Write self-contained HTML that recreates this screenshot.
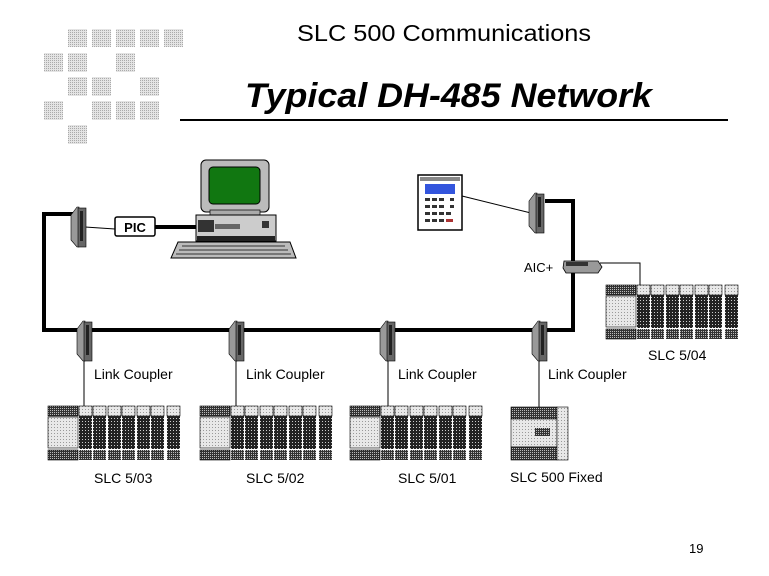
<!DOCTYPE html>
<html><head><meta charset="utf-8"><style>
html,body{margin:0;padding:0;background:#fff;}
svg{display:block;}
text{font-family:"Liberation Sans",Arial,sans-serif;}
</style></head><body>
<svg width="769" height="576" viewBox="0 0 769 576" xmlns="http://www.w3.org/2000/svg">
<defs>
<pattern id="dl" width="3" height="3" patternUnits="userSpaceOnUse"><rect width="3" height="3" fill="#e8e8e8"/><rect width="1" height="1" fill="#999"/></pattern>
<pattern id="lg" width="2" height="2" patternUnits="userSpaceOnUse"><rect width="2" height="2" fill="#e4e4e4"/><rect width="1" height="1" fill="#aaa"/></pattern>
<pattern id="dk" width="3" height="3" patternUnits="userSpaceOnUse"><rect width="3" height="3" fill="#222"/><rect width="1" height="1" fill="#ccc"/></pattern>
<pattern id="dm" width="2" height="2" patternUnits="userSpaceOnUse"><rect width="2" height="2" fill="#333"/><rect width="1" height="1" fill="#bbb"/></pattern>
<g id="slot"><rect x="0" y="0" width="13" height="10" fill="url(#dl)" stroke="#000" stroke-width="0.6"/><rect x="0" y="10" width="13" height="33" fill="url(#dk)"/><rect x="0" y="44" width="13" height="10" fill="url(#dm)"/></g>
<g id="rack">
<rect x="0" y="0" width="132" height="54" fill="#fff"/>
<rect x="0" y="0" width="30" height="10" fill="url(#dm)" stroke="#000" stroke-width="0.6"/>
<rect x="0" y="11" width="30" height="31" fill="url(#dl)" stroke="#000" stroke-width="0.6"/>
<rect x="0" y="44" width="30" height="10" fill="url(#dm)" stroke="#000" stroke-width="0.6"/>
<use href="#slot" x="31"/><use href="#slot" x="45"/>
<use href="#slot" x="60"/><use href="#slot" x="74"/>
<use href="#slot" x="89"/><use href="#slot" x="103"/>
<use href="#slot" x="119"/>
</g>
<g id="cpl">
<polygon points="0,8 6,0 8,0 8,40 6,40 0,33" fill="#999" stroke="#000" stroke-width="0.6"/>
<rect x="7" y="1" width="8" height="39" fill="#666" stroke="#000" stroke-width="0.6"/>
<rect x="9" y="4" width="3" height="30" fill="#222"/>
</g>
</defs>
<g fill="url(#lg)">
<rect x="68" y="29" width="19" height="18"/><rect x="92" y="29" width="19" height="18"/><rect x="116" y="29" width="19" height="18"/><rect x="140" y="29" width="19" height="18"/><rect x="164" y="29" width="19" height="18"/>
<rect x="44" y="53" width="19" height="19"/><rect x="68" y="53" width="19" height="19"/><rect x="116" y="53" width="19" height="19"/>
<rect x="68" y="77" width="19" height="19"/><rect x="92" y="77" width="19" height="19"/><rect x="140" y="77" width="19" height="19"/>
<rect x="44" y="101" width="19" height="19"/><rect x="92" y="101" width="19" height="19"/><rect x="116" y="101" width="19" height="19"/><rect x="140" y="101" width="19" height="19"/>
<rect x="68" y="125" width="19" height="19"/>
</g>
<text x="297" y="41" font-size="23" textLength="294" lengthAdjust="spacingAndGlyphs">SLC 500 Communications</text>
<text x="245" y="107" font-size="34" font-weight="bold" font-style="italic" textLength="407" lengthAdjust="spacingAndGlyphs">Typical DH-485 Network</text>
<rect x="180" y="119" width="548" height="2" fill="#000"/>
<g stroke="#000" stroke-width="4" fill="none">
<polyline points="76,214 44,214 44,330 573,330 573,201 545,201"/>
<line x1="155" y1="227" x2="197" y2="227"/>
</g>
<g stroke="#000" stroke-width="1" fill="none">
<line x1="85" y1="227" x2="115" y2="229"/>
<line x1="462" y1="196" x2="531" y2="213"/>
<polyline points="600,263 640,263 640,285"/>
<line x1="84" y1="360" x2="84" y2="406"/>
<line x1="236" y1="360" x2="236" y2="406"/>
<line x1="388" y1="360" x2="388" y2="406"/>
<line x1="539" y1="360" x2="539" y2="407"/>
</g>
<use href="#cpl" x="71" y="207"/>
<use href="#cpl" x="77" y="321"/>
<use href="#cpl" x="229" y="321"/>
<use href="#cpl" x="380" y="321"/>
<use href="#cpl" x="532" y="321"/>
<use href="#cpl" x="529" y="193"/>
<polygon points="564,261 598,261 602,267 598,273 566,273 563,268" fill="#999" stroke="#000" stroke-width="0.8"/>
<rect x="566" y="262" width="22" height="4" fill="#333"/>
<text x="524" y="272" font-size="13">AIC+</text>
<rect x="115" y="217" width="40" height="19" rx="2" fill="#fff" stroke="#000" stroke-width="1.5"/>
<text x="135" y="232" font-size="13" font-weight="bold" text-anchor="middle">PIC</text>
<rect x="201" y="160" width="68" height="52" rx="5" fill="#bbb" stroke="#000"/>
<rect x="209" y="167" width="51" height="37" rx="4" fill="#117711" stroke="#000"/>
<rect x="210" y="210" width="50" height="5" fill="#aaa" stroke="#000" stroke-width="0.7"/>
<rect x="196" y="215" width="80" height="26" fill="#ccc" stroke="#000"/>
<rect x="198" y="220" width="16" height="12" fill="#333"/>
<rect x="215" y="224" width="25" height="5" fill="#666"/>
<rect x="262" y="221" width="7" height="7" fill="#333"/>
<rect x="197" y="236" width="78" height="5" fill="#222"/>
<polygon points="178,242 290,242 296,258 171,258" fill="#bbb" stroke="#000"/>
<g stroke="#333" stroke-width="1"><line x1="182" y1="246" x2="285" y2="246"/><line x1="179" y1="250" x2="288" y2="250"/><line x1="176" y1="254" x2="291" y2="254"/></g>
<rect x="418" y="175" width="44" height="55" fill="#fff" stroke="#000" stroke-width="1.5"/>
<rect x="420" y="177" width="40" height="4" fill="#888"/>
<rect x="425" y="184" width="30" height="10" fill="#3355dd"/>
<g fill="#333"><rect x="425" y="198" width="5" height="3"/><rect x="432" y="198" width="5" height="3"/><rect x="439" y="198" width="5" height="3"/><rect x="450" y="198" width="4" height="3"/>
<rect x="425" y="205" width="5" height="3"/><rect x="432" y="205" width="5" height="3"/><rect x="439" y="205" width="5" height="3"/><rect x="450" y="205" width="4" height="3"/>
<rect x="425" y="212" width="5" height="3"/><rect x="432" y="212" width="5" height="3"/><rect x="439" y="212" width="5" height="3"/><rect x="446" y="212" width="5" height="3"/>
<rect x="425" y="219" width="5" height="3"/><rect x="432" y="219" width="5" height="3"/><rect x="439" y="219" width="5" height="3"/></g>
<rect x="446" y="219" width="7" height="3" fill="#a33"/>
<use href="#rack" x="48" y="406"/>
<use href="#rack" x="200" y="406"/>
<use href="#rack" x="350" y="406"/>
<use href="#rack" x="606" y="285"/>
<rect x="511" y="407" width="46" height="12" fill="url(#dm)" stroke="#000" stroke-width="0.6"/>
<rect x="511" y="419" width="46" height="28" fill="url(#dl)" stroke="#000" stroke-width="0.6"/>
<rect x="535" y="428" width="15" height="8" fill="url(#dm)"/>
<rect x="511" y="447" width="46" height="13" fill="url(#dm)" stroke="#000" stroke-width="0.6"/>
<rect x="557" y="407" width="11" height="53" fill="url(#dl)" stroke="#000" stroke-width="0.6"/>
<g font-size="14">
<text x="94" y="379">Link Coupler</text>
<text x="246" y="379">Link Coupler</text>
<text x="398" y="379">Link Coupler</text>
<text x="548" y="379">Link Coupler</text>
<text x="94" y="483">SLC 5/03</text>
<text x="246" y="483">SLC 5/02</text>
<text x="398" y="483">SLC 5/01</text>
<text x="510" y="482">SLC 500 Fixed</text>
<text x="648" y="360">SLC 5/04</text>
</g>
<text x="689" y="553" font-size="13" font-family="Liberation Serif,serif">19</text>
</svg>
</body></html>
